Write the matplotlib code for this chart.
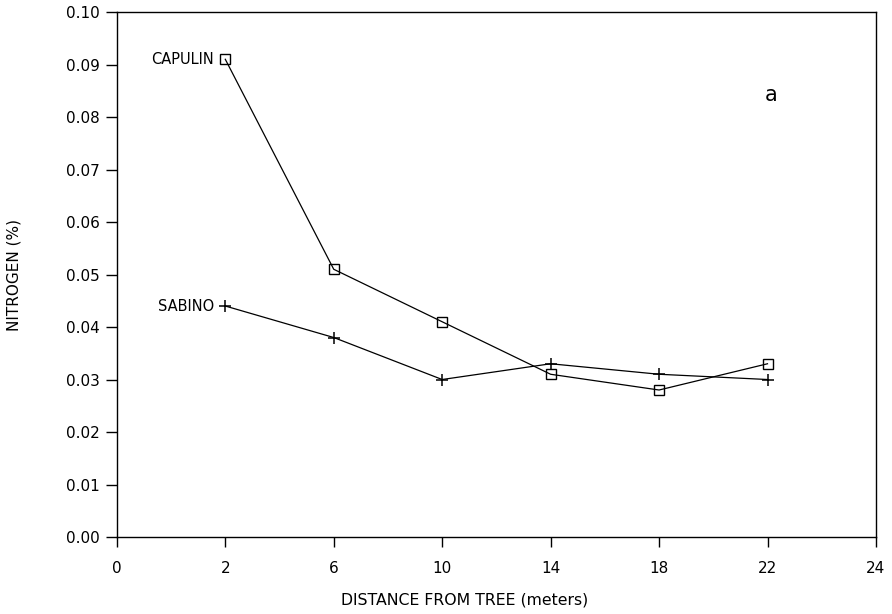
import matplotlib
matplotlib.use("Agg")
import matplotlib.pyplot as plt

# Data
distance_labels = ["0", "2", "6", "10", "14", "18", "22", "24"]
distances = ["2", "6", "10", "14", "18", "22"]
capulin = [0.091, 0.051, 0.041, 0.031, 0.028, 0.033]
sabino = [0.044, 0.038, 0.030, 0.033, 0.031, 0.030]
y_ticks = [0.00, 0.01, 0.02, 0.03, 0.04, 0.05, 0.06, 0.07, 0.08, 0.09, 0.10]

plt.rcParams['font.family'] = ['DejaVu Sans']

fig = plt.figure(figsize=(8.92, 6.14), dpi=100)
ax = fig.add_axes([0.131, 0.1254, 0.851, 0.855])

# equally spaced category positions for the distance ticks
pos = {lab: i for i, lab in enumerate(distance_labels)}
xs = [pos[d] for d in distances]

ax.plot(xs, capulin, color='black', lw=0.9, marker='s', markersize=6.5,
        markerfacecolor='none', markeredgecolor='black', markeredgewidth=1.0)
ax.plot(xs, sabino, color='black', lw=0.9, marker='+', markersize=8,
        markeredgewidth=1.1)

ax.annotate("CAPULIN", (xs[0], capulin[0]), xytext=(-8, 0),
            textcoords='offset points', ha='right', va='center', fontsize=10.5)
ax.annotate("SABINO", (xs[0], sabino[0]), xytext=(-8, 0),
            textcoords='offset points', ha='right', va='center', fontsize=10.5)

ax.text(0.862, 0.842, "a", transform=ax.transAxes, fontsize=15,
        ha='center', va='center')

ax.set_xlim(0, len(distance_labels) - 1)
ax.set_ylim(0, 0.10)
ax.set_xticks(range(len(distance_labels)))
ax.set_xticklabels(distance_labels)
ax.set_yticks(y_ticks)
ax.set_yticklabels([f"{v:.2f}" for v in y_ticks])

ax.tick_params(axis='both', direction='out', labelsize=11, width=1.0,
               colors='black')
ax.tick_params(axis='y', length=8, pad=4)
ax.tick_params(axis='x', length=7, pad=10)

for s in ax.spines.values():
    s.set_linewidth(1.0)
    s.set_color('black')

ax.set_xlabel("DISTANCE FROM TREE (meters)", fontsize=11.3)
ax.xaxis.set_label_coords(0.458, -0.105)
ax.set_ylabel("NITROGEN (%)", fontsize=11, labelpad=32)

fig.savefig("out.png", dpi=100)
